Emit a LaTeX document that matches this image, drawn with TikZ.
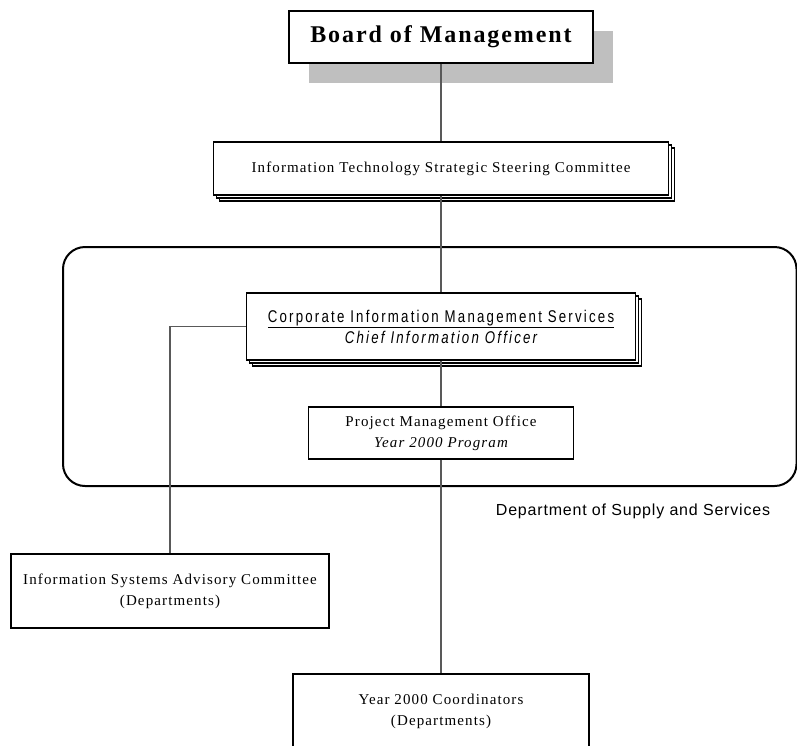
\documentclass[tikz,border=0pt]{standalone}
\usepackage{fontspec}
\newfontfamily\tms[LetterSpace=7.5]{Liberation Serif}
\newfontfamily\brd[LetterSpace=8]{Liberation Serif}
\newfontfamily\nar[FakeStretch=0.78,LetterSpace=13]{Liberation Sans}
\newfontfamily\dss[LetterSpace=5]{Liberation Sans}
\usetikzlibrary{shadows}
\begin{document}
\begin{tikzpicture}[x=1pt,y=-1pt,
  box/.style={draw=black,line width=1.1pt,fill=white,align=center,inner sep=0pt},
  stack/.style={box,double copy shadow={shadow xshift=3pt,shadow yshift=-3pt,fill=white,draw=black,line width=1.1pt}},
  conn/.style={draw=black!65,line width=1.1pt},
  serif/.style={font=\tms\fontsize{15}{21}\selectfont},
  narrowsans/.style={font=\nar\fontsize{17}{21}\selectfont},
  region/.style={draw=black,line width=2pt,rounded corners=22pt}
]
\clip (0,0) rectangle (797,745);
\fill[white] (0,0) rectangle (797,745);
\draw[region] (63,247) rectangle (796.5,486);

\node[box,serif,minimum width=304pt,minimum height=52pt,
  drop shadow={shadow xshift=20pt,shadow yshift=-20pt,fill=black!25,opacity=1}]
  (board) at (441,37) {\brd\fontsize{24}{26}\selectfont\bfseries Board of Management};
\node[stack,serif,minimum width=455pt,minimum height=53pt] (itssc) at (441,168.5)
  {Information Technology Strategic Steering Committee};
\node[stack,narrowsans,minimum width=389pt,minimum height=67pt] (cims) at (441,326.5)
  {\underline{Corporate Information Management Services}\\ \itshape Chief Information Officer};
\node[box,serif,minimum width=265pt,minimum height=52pt] (pmo) at (441,433)
  {Project Management Office\\ \itshape Year 2000 Program};
\node[box,serif,minimum width=318pt,minimum height=74pt] (isac) at (170,591)
  {Information Systems Advisory Committee\\ (Departments)};
\node[box,serif,minimum width=296pt,minimum height=75pt] (y2k) at (441,711.5)
  {Year 2000 Coordinators\\ (Departments)};
\node[font=\dss\fontsize{16}{18}\selectfont] (dss) at (633,511) {Department of Supply and Services};

\draw[conn] (board.south) -- (itssc.north);
\draw[conn] (itssc.south) -- (cims.north);
\draw[conn] (cims.south) -- (pmo.north);
\draw[conn] (pmo.south) -- (y2k.north);
\draw[conn] (cims.west) -| (isac.north);
\end{tikzpicture}
\end{document}
